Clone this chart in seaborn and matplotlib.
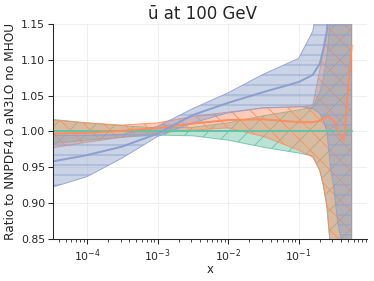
import numpy as np
import pandas as pd
import seaborn as sns
import matplotlib.pyplot as plt

# log10(x) grid the curves were read at
log_x = [-4.5, -4.0, -3.5, -3.0, -2.5, -2.0, -1.5, -1.0, -0.8, -0.7, -0.65,
         -0.6, -0.55, -0.5, -0.45, -0.4, -0.37, -0.35, -0.33, -0.3, -0.25]

# NNPDF4.0 aN3LO no MHOU (reference, ratio = 1)
ref_cv = [1.0] * 21
ref_lo = [0.983, 0.988, 0.992, 0.995, 0.994, 0.988, 0.978, 0.970, 0.966, 0.945, 0.925,
          0.895, 0.84, 0.75, 0.72, 0.70, 0.68, 0.66, 0.64, 0.60, 0.55]
ref_hi = [1.017, 1.012, 1.008, 1.005, 1.006, 1.012, 1.022, 1.030, 1.034, 1.055, 1.075,
          1.105, 1.16, 1.25, 1.28, 1.30, 1.32, 1.34, 1.36, 1.40, 1.45]

# second set (orange)
orn_cv = [0.997, 0.998, 1.001, 1.005, 1.011, 1.016, 1.017, 1.013, 1.013, 1.015, 1.018,
          1.021, 1.019, 1.014, 1.002, 0.992, 0.988, 0.998, 1.030, 1.060, 1.120]
orn_lo = [0.977, 0.985, 0.992, 0.998, 1.002, 1.005, 0.993, 0.974, 0.964, 0.946, 0.925,
          0.895, 0.84, 0.75, 0.72, 0.70, 0.68, 0.66, 0.64, 0.60, 0.55]
orn_hi = [1.016, 1.012, 1.009, 1.012, 1.021, 1.027, 1.033, 1.034, 1.037, 1.086, 1.115,
          1.14, 1.20, 1.30, 1.35, 1.40, 1.42, 1.44, 1.46, 1.50, 1.50]

# third set (blue)
blu_cv = [0.958, 0.967, 0.979, 0.997, 1.023, 1.040, 1.055, 1.069, 1.079, 1.095, 1.115,
          1.140, 1.20, 1.30, 1.32, 1.35, 1.36, 1.37, 1.38, 1.40, 1.45]
blu_lo = [0.922, 0.937, 0.963, 0.993, 1.012, 1.026, 1.033, 1.035, 1.032, 1.025, 1.015,
          1.000, 0.950, 0.920, 0.875, 0.850, 0.83, 0.82, 0.81, 0.80, 0.78]
blu_hi = [0.995, 0.995, 0.996, 1.007, 1.032, 1.054, 1.080, 1.102, 1.140, 1.200, 1.25,
          1.30, 1.35, 1.40, 1.45, 1.50, 1.50, 1.50, 1.50, 1.50, 1.50]

names = ["ref", "orange", "blue"]
x = 10.0 ** np.array(log_x)

df = pd.concat([
    pd.DataFrame({"x": x, "ratio": cv, "set": n})
    for n, cv in zip(names, [ref_cv, orn_cv, blu_cv])
])

sns.set_theme(style="ticks")
plt.rcParams.update({"font.size": 13, "hatch.linewidth": 1.2,
                     "font.family": ["DejaVu Sans"]})
colors = sns.color_palette("Set2", 3)

fig = plt.figure(figsize=(374 / 60, 281 / 60), dpi=60)
ax = fig.add_axes([0.1417, 0.1495, 0.8396, 0.7651])

bands = [(ref_lo, ref_hi, "/"), (orn_lo, orn_hi, "\\"), (blu_lo, blu_hi, "-")]
for c, (lo, hi, h) in zip(colors, bands):
    ax.fill_between(x, lo, hi, facecolor=(*c, 0.45), edgecolor=(*c, 0.85),
                    hatch=h, linewidth=1.2)

sns.lineplot(data=df, x="x", y="ratio", hue="set", palette=colors,
             linewidth=2.4, legend=False, estimator=None, ax=ax)

ax.set_xscale("log")
ax.set_xlim(3.3e-5, 0.93)
ax.set_ylim(0.85, 1.15)
ax.set_yticks([0.85, 0.90, 0.95, 1.00, 1.05, 1.10, 1.15])
ax.grid(True, color="#ececec", linewidth=1.0)
ax.set_axisbelow(True)
ax.tick_params(labelsize=13)
ax.set_title("ū at 100 GeV", fontsize=20, x=0.475)
ax.set_xlabel("x", fontsize=14, labelpad=-1)
ax.set_ylabel("Ratio to NNPDF4.0 aN3LO no MHOU", fontsize=14.5)
sns.despine(ax=ax)

fig.savefig("out.png", dpi=60)
